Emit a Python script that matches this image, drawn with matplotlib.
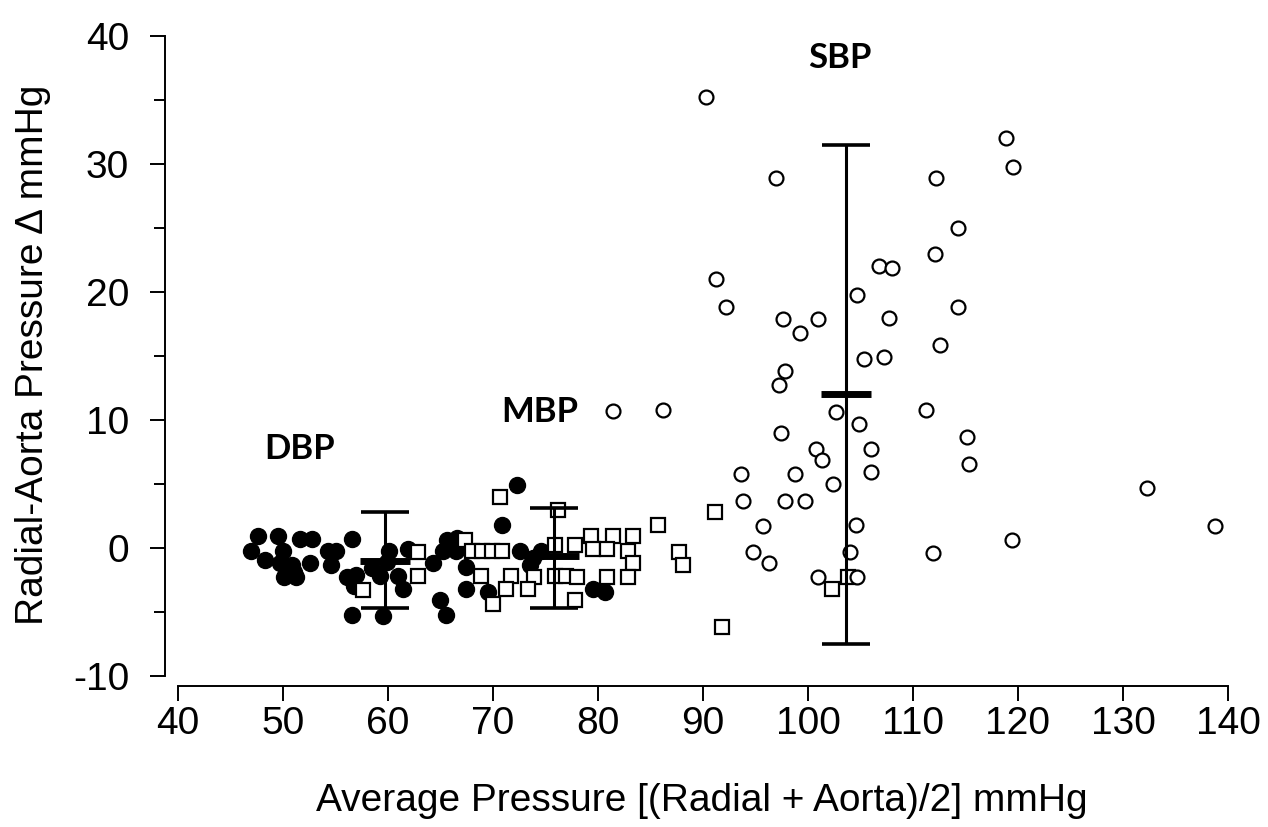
import matplotlib
matplotlib.use("Agg")
import matplotlib.pyplot as plt
import numpy as np

# DBP (filled circles)
dbp_x = [47.6, 49.5, 51.6, 52.8, 56.6, 47.0, 50.0, 54.3, 55.1, 48.3, 49.7, 50.9, 52.6, 54.6,
         51.1, 50.1, 51.2, 56.1, 56.8, 56.6, 60.1, 61.9, 59.2, 61.0, 57.0, 61.4, 59.5, 65.0,
         65.5, 65.2, 65.6, 66.6, 66.5, 64.3, 67.4, 67.4, 72.3, 70.9, 72.6, 74.6, 73.8, 73.5,
         69.5, 79.5, 80.7, 59.9, 58.5]
dbp_y = [0.9, 0.9, 0.7, 0.7, 0.7, -0.2, -0.2, -0.2, -0.2, -0.9, -1.2, -1.3, -1.2, -1.3,
         -1.9, -2.3, -2.3, -2.3, -3.0, -5.2, -0.2, -0.1, -2.2, -2.2, -2.1, -3.2, -5.3, -4.1,
         -5.2, -0.2, 0.6, 0.8, -0.2, -1.2, -1.5, -3.2, 4.9, 1.8, -0.2, -0.2, -0.8, -1.3,
         -3.4, -3.2, -3.4, -1.1, -1.6]

# MBP (open squares)
mbp_x = [57.6, 62.9, 62.9, 67.3, 68.0, 69.0, 69.9, 70.9, 70.7, 68.9, 71.7, 73.9, 71.2, 73.3,
         70.0, 76.2, 75.9, 77.8, 75.9, 77.0, 78.0, 77.8, 79.3, 81.4, 83.3, 79.5, 80.9, 82.9,
         83.3, 80.9, 82.9, 85.7, 87.7, 88.1, 91.1, 91.8, 103.8, 102.3]
mbp_y = [-3.3, -0.3, -2.2, 0.6, -0.2, -0.2, -0.2, -0.2, 4.0, -2.2, -2.2, -2.3, -3.2, -3.2,
         -4.4, 3.0, 0.2, 0.2, -2.2, -2.2, -2.3, -4.1, 0.9, 0.9, 0.9, -0.1, -0.1, -0.2,
         -1.2, -2.3, -2.3, 1.8, -0.3, -1.3, 2.8, -6.2, -2.3, -3.2]

# SBP (open circles)
sbp_x = [90.3, 97.0, 112.2, 114.3, 112.1, 106.8, 108.0, 91.2, 92.2, 104.7, 114.3, 97.6, 99.2,
         101.0, 107.7, 112.6, 105.3, 107.2, 97.8, 97.2, 102.7, 111.2, 104.9, 115.1, 97.4,
         100.8, 106.0, 101.3, 115.3, 93.6, 98.8, 106.0, 102.4, 93.8, 97.8, 99.7, 95.7, 104.6,
         94.8, 104.0, 111.9, 96.3, 101.0, 104.7, 118.9, 119.5, 132.3, 138.8, 119.4, 81.4, 86.2]
sbp_y = [35.2, 28.9, 28.9, 25.0, 23.0, 22.0, 21.9, 21.0, 18.8, 19.8, 18.8, 17.9, 16.8,
         17.9, 18.0, 15.9, 14.8, 14.9, 13.8, 12.7, 10.6, 10.8, 9.7, 8.7, 9.0,
         7.7, 7.7, 6.9, 6.6, 5.8, 5.8, 5.9, 5.0, 3.7, 3.7, 3.7, 1.7, 1.8,
         -0.3, -0.3, -0.4, -1.2, -2.3, -2.3, 32.0, 29.8, 4.7, 1.7, 0.6, 10.7, 10.8]

# mean and range bars: x, mean, low, high
bar_x = [59.7, 75.8, 103.6]
bar_mean = [-1.0, -0.6, 12.0]
bar_low = [-4.7, -4.7, -7.5]
bar_high = [2.8, 3.1, 31.5]

labels = ["DBP", "MBP", "SBP"]
label_x = [51.6, 74.5, 103.0]
label_y = [7.7, 10.6, 38.3]

plt.rcParams['font.family'] = ['Liberation Sans', 'DejaVu Sans']
plt.rcParams['axes.unicode_minus'] = False

fig = plt.figure(figsize=(12.68, 8.27), dpi=100)
ax = fig.add_axes([0.1304, 0.1702, 0.8463, 0.8017])

ax.plot(dbp_x, dbp_y, 'o', ms=11.5, mfc='black', mec='black', mew=1, zorder=3)
ax.plot(mbp_x, mbp_y, 's', ms=9.5, mfc='white', mec='black', mew=1.6, zorder=3)
ax.plot(sbp_x, sbp_y, 'o', ms=10, mfc='white', mec='black', mew=1.6, zorder=3)

bar_x = np.array(bar_x)
bar_mean = np.array(bar_mean)
yerr = [bar_mean - np.array(bar_low), np.array(bar_high) - bar_mean]
ax.errorbar(bar_x, bar_mean, yerr=yerr, fmt='none', ecolor='black', elinewidth=2.2,
            capsize=17, capthick=2.6, zorder=4)
ax.plot(bar_x, bar_mean, '_', ms=36, mew=5, color='black', zorder=5)

for t, x, y in zip(labels, label_x, label_y):
    ax.text(x, y, t, ha='center', va='center', fontsize=25, fontweight='bold',
            family=['Lato', 'DejaVu Sans'])

ax.set_xlim(38.8, 141)
ax.set_ylim(-10.8, 41)
ax.spines['top'].set_visible(False)
ax.spines['right'].set_visible(False)
ax.spines['left'].set_bounds(-10, 40)
ax.spines['bottom'].set_bounds(40, 140)
ax.spines['left'].set_linewidth(1.4)
ax.spines['bottom'].set_linewidth(1.4)

ax.set_xticks(np.arange(40, 141, 10))
ax.set_yticks(np.arange(-10, 41, 10))
ax.set_yticks(np.arange(-5, 40, 10), minor=True)
ax.tick_params(axis='both', which='major', direction='out', length=11, width=1.4,
               labelsize=28)
ax.tick_params(axis='x', which='major', pad=3)
ax.tick_params(axis='y', which='major', pad=15)
ax.tick_params(axis='y', which='minor', direction='out', length=8, width=1.4)

ax.set_xlabel('Average Pressure [(Radial + Aorta)/2] mmHg', fontsize=28, labelpad=30)
ax.set_ylabel('Radial-Aorta Pressure \u0394 mmHg', fontsize=28, labelpad=16)

fig.savefig('out.png', dpi=100)
